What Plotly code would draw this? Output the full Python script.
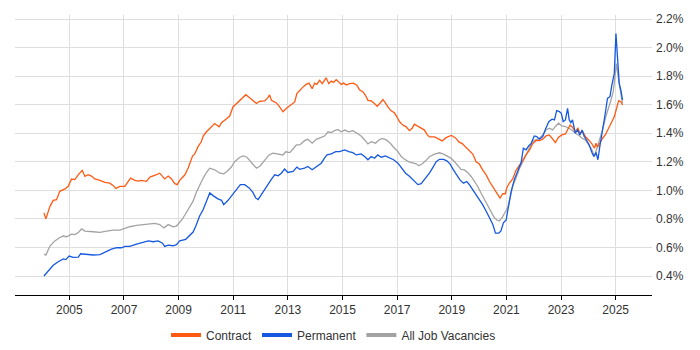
import plotly.graph_objects as go

# ---------------- data (decimal years, % of vacancies) ----------------
contract_x = [2004.07, 2004.14, 2004.29, 2004.41, 2004.53, 2004.65, 2004.84, 2004.96, 2005.08, 2005.20,
              2005.33, 2005.47, 2005.57, 2005.69, 2005.81, 2005.93, 2006.12, 2006.30, 2006.48, 2006.61,
              2006.70, 2006.85, 2007.03, 2007.15, 2007.24, 2007.40, 2007.52, 2007.64, 2007.82, 2007.95,
              2008.07, 2008.19, 2008.31, 2008.49, 2008.62, 2008.74, 2008.86, 2008.95, 2009.04, 2009.23,
              2009.35, 2009.43, 2009.51, 2009.59, 2009.71, 2009.83, 2009.90, 2010.02, 2010.16, 2010.32,
              2010.48, 2010.57, 2010.72, 2010.87, 2010.99, 2011.18, 2011.30, 2011.46, 2011.60, 2011.72,
              2011.85, 2011.97, 2012.15, 2012.27, 2012.33, 2012.40, 2012.58, 2012.70, 2012.82, 2012.94,
              2013.09, 2013.25, 2013.33, 2013.43, 2013.55, 2013.67, 2013.77, 2013.89, 2013.98, 2014.06,
              2014.16, 2014.26, 2014.34, 2014.40, 2014.50, 2014.59, 2014.67, 2014.77, 2014.87, 2014.95,
              2015.04, 2015.14, 2015.26, 2015.40, 2015.53, 2015.62, 2015.75, 2015.84, 2015.93, 2016.05,
              2016.17, 2016.27, 2016.38, 2016.48, 2016.57, 2016.66, 2016.78, 2016.90, 2016.99, 2017.09,
              2017.21, 2017.33, 2017.45, 2017.55, 2017.63, 2017.76, 2017.88, 2018.00, 2018.10, 2018.18,
              2018.37, 2018.52, 2018.65, 2018.79, 2018.98, 2019.13, 2019.26, 2019.38, 2019.52, 2019.65,
              2019.77, 2019.89, 2020.01, 2020.13, 2020.26, 2020.38, 2020.50, 2020.65, 2020.77, 2020.87,
              2020.96, 2021.01, 2021.11, 2021.23, 2021.35, 2021.47, 2021.60, 2021.72, 2021.84, 2021.96,
              2022.08, 2022.21, 2022.33, 2022.45, 2022.57, 2022.67, 2022.79, 2022.91, 2023.03, 2023.16,
              2023.24, 2023.33, 2023.42, 2023.52, 2023.62, 2023.69, 2023.79, 2023.89, 2024.01, 2024.13,
              2024.22, 2024.28, 2024.34, 2024.42, 2024.52, 2024.62, 2024.70, 2024.79, 2024.89, 2024.95,
              2025.03, 2025.11, 2025.19, 2025.25]
contract_y = [0.842, 0.800, 0.888, 0.930, 0.935, 0.993, 1.010, 1.028, 1.079, 1.075,
              1.110, 1.140, 1.098, 1.110, 1.100, 1.080, 1.070, 1.056, 1.050, 1.033,
              1.014, 1.028, 1.028, 1.063, 1.086, 1.070, 1.065, 1.070, 1.063, 1.093,
              1.100, 1.110, 1.120, 1.080, 1.100, 1.080, 1.047, 1.040, 1.070, 1.109,
              1.156, 1.200, 1.240, 1.255, 1.306, 1.340, 1.380, 1.410, 1.438, 1.468,
              1.445, 1.473, 1.496, 1.520, 1.584, 1.619, 1.647, 1.670, 1.649, 1.626,
              1.608, 1.624, 1.626, 1.649, 1.668, 1.630, 1.612, 1.584, 1.550, 1.573,
              1.596, 1.619, 1.677, 1.700, 1.723, 1.742, 1.751, 1.712, 1.751, 1.742,
              1.770, 1.747, 1.775, 1.788, 1.747, 1.765, 1.756, 1.775, 1.758, 1.742,
              1.751, 1.737, 1.747, 1.751, 1.735, 1.705, 1.689, 1.666, 1.630, 1.626,
              1.608, 1.589, 1.612, 1.635, 1.612, 1.584, 1.557, 1.543, 1.515, 1.480,
              1.457, 1.445, 1.418, 1.434, 1.464, 1.450, 1.434, 1.422, 1.390, 1.374,
              1.374, 1.362, 1.346, 1.369, 1.385, 1.369, 1.339, 1.327, 1.300, 1.281,
              1.254, 1.200, 1.184, 1.143, 1.108, 1.062, 1.023, 0.981, 0.946, 0.976,
              0.976, 1.016, 1.051, 1.080, 1.140, 1.170, 1.210, 1.250, 1.280, 1.326,
              1.349, 1.349, 1.358, 1.381, 1.388, 1.365, 1.335, 1.372, 1.388, 1.395,
              1.423, 1.458, 1.442, 1.412, 1.435, 1.400, 1.412, 1.377, 1.353, 1.326,
              1.295, 1.330, 1.302, 1.335, 1.365, 1.388, 1.423, 1.451, 1.493, 1.516,
              1.567, 1.628, 1.621, 1.598]

permanent_x = [2004.07, 2004.23, 2004.41, 2004.59, 2004.78, 2004.87, 2004.99, 2005.14, 2005.33, 2005.41,
               2005.63, 2005.87, 2006.12, 2006.30, 2006.54, 2006.73, 2006.91, 2007.03, 2007.21, 2007.46,
               2007.64, 2007.89, 2008.07, 2008.25, 2008.41, 2008.49, 2008.62, 2008.80, 2008.92, 2009.04,
               2009.26, 2009.41, 2009.53, 2009.63, 2009.77, 2009.90, 2010.02, 2010.14, 2010.26, 2010.44,
               2010.57, 2010.65, 2010.81, 2010.97, 2011.11, 2011.26, 2011.42, 2011.58, 2011.72, 2011.82,
               2011.91, 2012.03, 2012.15, 2012.27, 2012.40, 2012.52, 2012.64, 2012.76, 2012.88, 2013.00,
               2013.19, 2013.33, 2013.43, 2013.61, 2013.73, 2013.89, 2014.04, 2014.22, 2014.34, 2014.43,
               2014.59, 2014.75, 2014.89, 2015.08, 2015.23, 2015.38, 2015.50, 2015.68, 2015.81, 2015.93,
               2016.05, 2016.17, 2016.29, 2016.42, 2016.57, 2016.72, 2016.87, 2017.03, 2017.15, 2017.31,
               2017.45, 2017.60, 2017.76, 2017.88, 2018.00, 2018.10, 2018.18, 2018.31, 2018.43, 2018.55,
               2018.70, 2018.82, 2018.94, 2019.06, 2019.18, 2019.30, 2019.43, 2019.55, 2019.65, 2019.77,
               2019.89, 2020.01, 2020.13, 2020.26, 2020.38, 2020.50, 2020.60, 2020.72, 2020.80, 2020.89,
               2020.99, 2021.09, 2021.17, 2021.29, 2021.41, 2021.54, 2021.62, 2021.72, 2021.82, 2021.90,
               2022.02, 2022.11, 2022.21, 2022.33, 2022.43, 2022.55, 2022.67, 2022.76, 2022.84, 2022.94,
               2023.01, 2023.08, 2023.16, 2023.24, 2023.30, 2023.36, 2023.42, 2023.52, 2023.61, 2023.69,
               2023.77, 2023.85, 2023.94, 2024.03, 2024.13, 2024.20, 2024.28, 2024.35, 2024.42, 2024.52,
               2024.62, 2024.70, 2024.79, 2024.86, 2024.95, 2025.01, 2025.07, 2025.13, 2025.19, 2025.25]
permanent_y = [0.400, 0.435, 0.475, 0.500, 0.520, 0.515, 0.540, 0.530, 0.532, 0.556,
               0.550, 0.547, 0.550, 0.565, 0.588, 0.598, 0.598, 0.607, 0.607, 0.623,
               0.635, 0.646, 0.640, 0.646, 0.630, 0.607, 0.616, 0.612, 0.620, 0.646,
               0.657, 0.685, 0.708, 0.750, 0.820, 0.866, 0.924, 0.982, 0.963, 0.940,
               0.930, 0.900, 0.930, 0.970, 1.010, 1.040, 1.040, 1.017, 0.986, 0.947,
               0.935, 0.970, 1.005, 1.047, 1.079, 1.109, 1.102, 1.120, 1.149, 1.125,
               1.132, 1.163, 1.147, 1.156, 1.167, 1.144, 1.163, 1.190, 1.225, 1.248,
               1.255, 1.271, 1.271, 1.283, 1.271, 1.264, 1.248, 1.255, 1.237, 1.214,
               1.237, 1.225, 1.248, 1.232, 1.241, 1.225, 1.214, 1.190, 1.156, 1.120,
               1.098, 1.070, 1.040, 1.047, 1.074, 1.100, 1.120, 1.161, 1.200, 1.217,
               1.217, 1.207, 1.184, 1.143, 1.108, 1.073, 1.050, 1.062, 1.039, 1.004,
               0.969, 0.939, 0.900, 0.854, 0.808, 0.762, 0.700, 0.700, 0.716, 0.773,
               0.792, 0.889, 0.990, 1.075, 1.135, 1.195, 1.295, 1.284, 1.312, 1.326,
               1.381, 1.377, 1.358, 1.377, 1.428, 1.481, 1.498, 1.493, 1.558, 1.551,
               1.540, 1.481, 1.493, 1.574, 1.493, 1.474, 1.493, 1.400, 1.423, 1.388,
               1.423, 1.377, 1.349, 1.319, 1.265, 1.237, 1.265, 1.214, 1.307, 1.412,
               1.540, 1.644, 1.656, 1.737, 1.819, 2.098, 1.912, 1.749, 1.702, 1.633]

all_x = [2004.07, 2004.14, 2004.29, 2004.47, 2004.65, 2004.78, 2004.90, 2005.08, 2005.20, 2005.33,
         2005.45, 2005.57, 2005.87, 2006.12, 2006.36, 2006.61, 2006.85, 2006.97, 2007.21, 2007.46,
         2007.70, 2007.95, 2008.13, 2008.31, 2008.46, 2008.62, 2008.80, 2008.92, 2009.04, 2009.13,
         2009.26, 2009.41, 2009.53, 2009.65, 2009.77, 2009.90, 2010.02, 2010.14, 2010.32, 2010.51,
         2010.65, 2010.77, 2010.93, 2011.05, 2011.24, 2011.36, 2011.50, 2011.66, 2011.85, 2011.99,
         2012.15, 2012.31, 2012.46, 2012.64, 2012.82, 2012.92, 2013.07, 2013.21, 2013.31, 2013.43,
         2013.61, 2013.73, 2013.89, 2014.04, 2014.22, 2014.34, 2014.47, 2014.59, 2014.71, 2014.83,
         2014.95, 2015.08, 2015.23, 2015.38, 2015.53, 2015.68, 2015.81, 2015.93, 2016.05, 2016.21,
         2016.33, 2016.45, 2016.60, 2016.75, 2016.87, 2017.03, 2017.15, 2017.27, 2017.43, 2017.57,
         2017.70, 2017.79, 2017.92, 2018.06, 2018.18, 2018.37, 2018.55, 2018.70, 2018.85, 2018.98,
         2019.10, 2019.22, 2019.34, 2019.46, 2019.59, 2019.71, 2019.83, 2019.95, 2020.07, 2020.20,
         2020.32, 2020.44, 2020.56, 2020.65, 2020.74, 2020.84, 2020.96, 2021.05, 2021.13, 2021.23,
         2021.35, 2021.47, 2021.60, 2021.72, 2021.86, 2021.96, 2022.08, 2022.21, 2022.33, 2022.45,
         2022.57, 2022.69, 2022.81, 2022.91, 2023.03, 2023.16, 2023.28, 2023.40, 2023.52, 2023.64,
         2023.77, 2023.89, 2024.01, 2024.13, 2024.22, 2024.30, 2024.40, 2024.52, 2024.64, 2024.74,
         2024.83, 2024.91, 2024.98, 2025.03, 2025.11, 2025.19, 2025.25]
all_y = [0.553, 0.547, 0.610, 0.646, 0.670, 0.680, 0.675, 0.693, 0.690, 0.705,
         0.730, 0.715, 0.710, 0.705, 0.715, 0.722, 0.722, 0.731, 0.745, 0.754,
         0.760, 0.764, 0.768, 0.760, 0.737, 0.760, 0.745, 0.750, 0.775, 0.796,
         0.838, 0.889, 0.924, 0.986, 1.040, 1.086, 1.125, 1.155, 1.144, 1.120,
         1.116, 1.132, 1.163, 1.200, 1.232, 1.241, 1.232, 1.200, 1.155, 1.172,
         1.214, 1.248, 1.260, 1.255, 1.248, 1.270, 1.264, 1.295, 1.318, 1.318,
         1.348, 1.357, 1.330, 1.357, 1.371, 1.380, 1.410, 1.404, 1.418, 1.427,
         1.410, 1.422, 1.410, 1.418, 1.400, 1.380, 1.353, 1.325, 1.341, 1.330,
         1.353, 1.364, 1.353, 1.330, 1.302, 1.271, 1.237, 1.218, 1.200, 1.190,
         1.186, 1.172, 1.186, 1.210, 1.235, 1.254, 1.263, 1.254, 1.235, 1.224,
         1.200, 1.177, 1.147, 1.143, 1.124, 1.097, 1.062, 1.027, 0.981, 0.935,
         0.893, 0.861, 0.808, 0.792, 0.785, 0.808, 0.845, 0.880, 0.940, 1.030,
         1.085, 1.150, 1.200, 1.250, 1.307, 1.342, 1.353, 1.365, 1.388, 1.423,
         1.435, 1.423, 1.451, 1.470, 1.451, 1.447, 1.435, 1.423, 1.400, 1.388,
         1.365, 1.353, 1.319, 1.284, 1.237, 1.284, 1.353, 1.423, 1.516, 1.574,
         1.633, 1.691, 1.819, 1.888, 1.772, 1.679, 1.609]

series_names = ["Contract", "Permanent", "All Job Vacancies"]
series_colors = ["#ff5a14", "#1659e0", "#a3a3a3"]

x_tick_vals = [2005, 2007, 2009, 2011, 2013, 2015, 2017, 2019, 2021, 2023, 2025]
x_tick_text = ["2005", "2007", "2009", "2011", "2013", "2015", "2017", "2019", "2021", "2023", "2025"]
y_tick_vals = [0.4, 0.6, 0.8, 1.0, 1.2, 1.4, 1.6, 1.8, 2.0, 2.2]
y_tick_text = ["0.4%", "0.6%", "0.8%", "1.0%", "1.2%", "1.4%", "1.6%", "1.8%", "2.0%", "2.2%"]

FONT = "Liberation Sans, Arial, sans-serif"

fig = go.Figure()

data = {
    "Contract": (contract_x, contract_y),
    "Permanent": (permanent_x, permanent_y),
    "All Job Vacancies": (all_x, all_y),
}
# draw order: All (bottom), Contract, Permanent (top)
for name in ["All Job Vacancies", "Contract", "Permanent"]:
    xs, ys = data[name]
    col = series_colors[series_names.index(name)]
    fig.add_trace(go.Scatter(x=xs, y=ys, mode="lines", name=name,
                             line=dict(color=col, width=1.3),
                             showlegend=False, hoverinfo="skip"))

# legend entries with thick swatches
for name, col in zip(series_names, series_colors):
    fig.add_trace(go.Scatter(x=[None], y=[None], mode="lines", name=name,
                             line=dict(color=col, width=4), showlegend=True))

# the page body keeps its default 8px margin, so the figure is 16px smaller
fig.update_layout(
    width=684, height=334,
    margin=dict(l=7, r=40, t=7, b=47, autoexpand=False),
    paper_bgcolor="white", plot_bgcolor="white",
    font=dict(family=FONT, size=12, color="#333333"),
    showlegend=True,
    legend=dict(orientation="h", x=0.5, xanchor="center", y=-0.143, yanchor="middle",
                font=dict(family=FONT, size=12, color="#333333"),
                itemwidth=30, tracegroupgap=0, bgcolor="rgba(0,0,0,0)"),
    xaxis=dict(range=[2003.01, 2026.33], tickmode="array", tickvals=x_tick_vals, ticktext=x_tick_text,
               automargin=False,
               showgrid=True, gridcolor="#dedede", gridwidth=1, zeroline=False,
               showline=True, linecolor="#000000", linewidth=1,
               ticks="outside", ticklen=4, tickcolor="#000000", tickwidth=1,
               tickfont=dict(family=FONT, size=12, color="#333333")),
    yaxis=dict(range=[0.267, 2.228], side="right", tickmode="array", tickvals=y_tick_vals, ticktext=y_tick_text,
               automargin=False,
               showgrid=True, gridcolor="#dedede", gridwidth=1, zeroline=False,
               showline=False, ticks="", ticklabelstandoff=3,
               tickfont=dict(family=FONT, size=12, color="#333333")),
)

fig.write_html("out.html")
